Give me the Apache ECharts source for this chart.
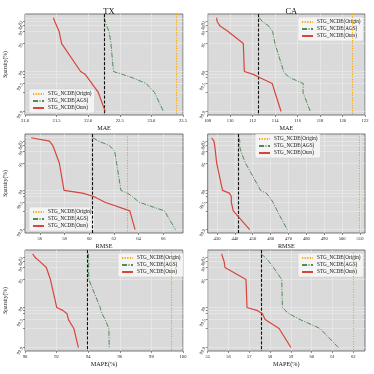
<!DOCTYPE html>
<html><head><meta charset="utf-8">
<script src="https://cdn.jsdelivr.net/npm/echarts@6/dist/echarts.min.js"></script>
<style>html,body{margin:0;padding:0;background:#fff}#c{width:374px;height:374px}</style>
</head><body><div id="c"></div>
<script>
// ---- data ----
const sparsity = [78, 82, 86, 90, 95, 99, 99.15, 99.3, 99.5, 99.7, 99.9];
const sparsityLabels = [78, 82, 86, 90, 95, 99, 99.5, 99.9];
const datasets = ['TX', 'CA'];
const metrics = ['MAE', 'RMSE', 'MAPE(%)'];
const seriesNames = ['STG_NCDE(Origin)', 'STG_NCDE(AGS)', 'STG_NCDE(Ours)'];

const txMaeOurs  = [21.45, 21.47, 21.50, 21.54, 21.58, 21.88, 21.95, 21.99, 22.06, 22.16, 22.27];
const txMaeAgs   = [22.25, 22.27, 22.29, 22.33, 22.36, 22.40, 22.54, 22.70, 22.92, 23.05, 23.19];
const caMaeOurs  = [108.80, 108.83, 109.07, 109.82, 111.17, 111.26, 112.06, 112.66, 113.75, 113.99, 114.53];
const caMaeAgs   = [112.60, 112.84, 113.40, 113.78, 113.99, 114.76, 114.94, 115.33, 116.51, 116.48, 117.14];
const txRmseOurs = [55.30, 56.78, 57.05, 57.23, 57.58, 57.96, 59.46, 60.37, 61.28, 63.29, 63.72];
const txRmseAgs  = [60.29, 60.75, 61.63, 62.06, 62.22, 62.57, 63.10, 63.50, 64.04, 66.10, 66.99];
const caRmseOurs = [427.0, 428.3, 428.7, 429.1, 429.8, 433.1, 436.9, 438.0, 438.0, 439.1, 448.3];
const caRmseAgs  = [442.2, 442.8, 442.6, 443.3, 445.9, 454.4, 457.6, 459.1, 461.3, 463.7, 469.3];
const txMapeOurs = [90.49, 90.63, 90.95, 91.35, 91.61, 92.01, 92.39, 92.66, 92.75, 93.09, 93.38];
const txMapeAgs  = [94.02, 94.02, 94.04, 94.02, 94.04, 94.76, 94.80, 94.88, 95.07, 95.31, 95.33];
const caMapeOurs = [55.67, 55.72, 55.79, 55.83, 56.84, 56.89, 57.36, 57.63, 57.76, 58.43, 59.00];
const caMapeAgs  = [57.56, 57.76, 57.95, 58.16, 58.56, 58.59, 58.72, 58.91, 59.44, 60.40, 61.28];

// vertical reference values per panel (TX-MAE, CA-MAE, TX-RMSE, CA-RMSE, TX-MAPE, CA-MAPE)
const originValues = [23.40, 120.87, 63.05, 509.8, 99.28, 62.0];
const denseValues  = [22.26, 112.51, 60.24, 442.0, 93.97, 57.56];

// x-axis ranges and tick labels per panel
const xMins = [21, 108, 54.8, 424.8, 90, 55];
const xMaxs = [23.5, 122, 67.6, 512.8, 100, 62.56];
const xTicks = [
  [21.0, 21.5, 22.0, 22.5, 23.0, 23.5],
  [108, 110, 112, 114, 116, 118, 120, 122],
  [56, 58, 60, 62, 64, 66],
  [430, 440, 450, 460, 470, 480, 490, 500, 510],
  [90, 92, 94, 96, 98, 100],
  [55, 56, 57, 58, 59, 60, 61, 62]
];
const xDecimals = [1, 0, 0, 0, 0, 0];
// y-axis limits expressed in sparsity (%)
const sparsityTop = 72.6, sparsityBottom = 99.918;

const oursData = [txMaeOurs, caMaeOurs, txRmseOurs, caRmseOurs, txMapeOurs, caMapeOurs];
const agsData  = [txMaeAgs, caMaeAgs, txRmseAgs, caRmseAgs, txMapeAgs, caMapeAgs];

// ---- layout / style ----
const T = s => -Math.log10(1 - s / 100);
const font = 'Liberation Serif, Times New Roman, DejaVu Serif, serif';
const colLeft = [25, 207.7], colWidth = [158, 157.3];
const rowTop = [14, 134, 250], rowHeight = [101, 99, 101];
const legendPos = [
  {left: 29, top: 89}, {left: 298, top: 17},
  {left: 29, top: 207}, {left: 255, top: 134},
  {left: 118, top: 253}, {left: 298, top: 253}
];
const RED = '#d8453d', GREEN = '#4f8c58', ORANGE = '#ffa500';

const grids = [], xAxes = [], yAxes = [], series = [], legends = [];
for (let p = 0; p < 6; p++) {
  const r = Math.floor(p / 2), c = p % 2;
  grids.push({left: colLeft[c], top: rowTop[r], width: colWidth[c], height: rowHeight[r],
    show: true, backgroundColor: '#dadada', borderColor: '#555', borderWidth: 0.8, containLabel: false});
  const dec = xDecimals[p];
  xAxes.push({type: 'value', gridIndex: p, min: xMins[p], max: xMaxs[p],
    name: metrics[r], nameLocation: 'middle', nameGap: 10,
    nameTextStyle: {fontFamily: font, fontSize: 6.2, color: '#111'},
    axisLine: {show: false},
    axisTick: {show: true, length: 2, lineStyle: {color: '#444', width: 0.6}, customValues: xTicks[p]},
    axisLabel: {fontFamily: font, fontSize: 4.6, color: '#222', margin: 3, customValues: xTicks[p],
      formatter: v => Number(v).toFixed(dec), showMinLabel: true, showMaxLabel: true},
    splitLine: {show: true, lineStyle: {color: '#ececec', width: 0.6}}
  });
  yAxes.push({type: 'value', gridIndex: p, inverse: true, min: T(sparsityTop), max: T(sparsityBottom),
    name: c === 0 ? 'Sparsity(%)' : '', nameLocation: 'middle', nameGap: 16, nameRotate: 90,
    nameTextStyle: {fontFamily: font, fontSize: 5.6, color: '#111'},
    axisLine: {show: false},
    axisTick: {show: true, length: 2, lineStyle: {color: '#444', width: 0.6}, customValues: sparsity.map(T)},
    axisLabel: {fontFamily: font, fontSize: 4.5, color: '#222', rotate: 60, margin: 3,
      customValues: sparsityLabels.map(T),
      formatter: v => String(Number((100 * (1 - Math.pow(10, -v))).toFixed(2)))},
    splitLine: {show: true, lineStyle: {color: '#ececec', width: 0.6}}
  });
  const pts = arr => arr.map((v, i) => [v, T(sparsity[i])]);
  series.push({name: seriesNames[0], type: 'line', xAxisIndex: p, yAxisIndex: p, data: [],
    symbol: 'none', color: ORANGE, lineStyle: {color: ORANGE, width: 1.1, type: [1.2, 1.4]},
    markLine: {silent: true, symbol: ['none', 'none'], label: {show: false},
      lineStyle: {color: ORANGE, width: 1.1, type: [1.2, 1.4]}, data: [{xAxis: originValues[p]}]}, z: 2});
  series.push({name: 'dense', type: 'line', xAxisIndex: p, yAxisIndex: p, data: [],
    symbol: 'none', color: '#000',
    markLine: {silent: true, symbol: ['none', 'none'], label: {show: false},
      lineStyle: {color: '#111', width: 1.1, type: [3.2, 1.6]}, data: [{xAxis: denseValues[p]}]}, z: 3});
  series.push({name: seriesNames[1], type: 'line', xAxisIndex: p, yAxisIndex: p, data: pts(agsData[p]),
    symbol: 'none', color: GREEN, lineStyle: {color: GREEN, width: 1, type: [5, 1.5, 1, 1.5]}, z: 4});
  series.push({name: seriesNames[2], type: 'line', xAxisIndex: p, yAxisIndex: p, data: pts(oursData[p]),
    symbol: 'none', color: RED, lineStyle: {color: RED, width: 1.2}, z: 5});
  legends.push(Object.assign({}, legendPos[p], {orient: 'vertical', data: seriesNames,
    itemWidth: 11, itemHeight: 0.5, itemGap: 2, padding: [2.5, 3, 2.5, 3],
    backgroundColor: 'rgba(246,246,246,0.9)', borderColor: '#cfcfcf', borderWidth: 0.5, borderRadius: 2,
    textStyle: {fontFamily: font, fontSize: 5.2, color: '#111', padding: [0, 0, 0, -1]},
    selectedMode: false}));
}

const chart = echarts.init(document.getElementById('c'), null, {renderer: 'canvas'});
chart.setOption({
  animation: false,
  backgroundColor: '#fff',
  title: datasets.map((d, c) => ({text: d, left: colLeft[c] + colWidth[c] / 2, top: 2, textAlign: 'center',
    textStyle: {fontFamily: font, fontSize: 8.5, fontWeight: 'normal', color: '#111'}})),
  grid: grids, xAxis: xAxes, yAxis: yAxes, series: series, legend: legends
});
</script></body></html>
